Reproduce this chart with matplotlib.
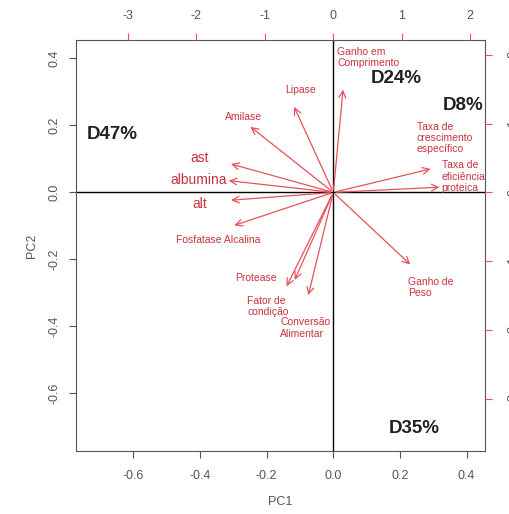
import matplotlib.pyplot as plt

plt.rcParams['font.family'] = ['Liberation Sans', 'DejaVu Sans']
plt.rcParams['axes.unicode_minus'] = False

# loadings (PC1, PC2)
variables = ["Ganho em\nComprimento", "Lipase", "Amilase", "ast", "albumina", "alt",
             "Fosfatase Alcalina", "Protease", "Fator de\ncondição", "Conversão\nAlimentar",
             "Ganho de\nPeso", "Taxa de\ncrescimento\nespecífico", "Taxa de\neficiência\nproteica"]
pc1 = [0.030, -0.121, -0.255, -0.315, -0.322, -0.315, -0.305, -0.144, -0.119, -0.077, 0.237, 0.300, 0.327]
pc2 = [0.315, 0.263, 0.201, 0.087, 0.036, -0.024, -0.101, -0.288, -0.269, -0.315, -0.221, 0.072, 0.016]

groups = ["D24%", "D8%", "D47%", "D35%"]

# label placement (x, y, ha, va, size)
label_pos = [
    (0.012, 0.435, "left", "top", 7.5),
    (-0.097, 0.305, "center", "center", 7.5),
    (-0.27, 0.225, "center", "center", 7.5),
    (-0.40, 0.104, "center", "center", 10),
    (-0.405, 0.036, "center", "center", 10),
    (-0.40, -0.036, "center", "center", 10),
    (-0.345, -0.142, "center", "center", 7.5),
    (-0.231, -0.255, "center", "center", 7.5),
    (-0.258, -0.34, "left", "center", 7.5),
    (-0.159, -0.405, "left", "center", 7.5),
    (0.225, -0.285, "left", "center", 7.5),
    (0.25, 0.162, "left", "center", 7.5),
    (0.325, 0.047, "left", "center", 7.5),
]
group_pos = [(0.19, 0.341), (0.389, 0.258), (-0.664, 0.172), (0.243, -0.704)]

arrow_col = "#e8505b"
text_col = "#c8323c"
lim = (-0.772, 0.455)
ratio = 0.2055

fig = plt.figure(figsize=(5.09, 5.14), dpi=100)
ax = fig.add_axes([0.1493, 0.1226, 0.8035, 0.7996])
ax.set_xlim(lim)
ax.set_ylim(lim)
ax.axhline(0, color="black", lw=1)
ax.axvline(0, color="black", lw=1)

for i in range(len(variables)):
    ax.annotate("", xy=(pc1[i], pc2[i]), xytext=(0, 0),
                arrowprops=dict(arrowstyle="->", color=arrow_col, lw=0.9, mutation_scale=12))
    x, y, ha, va, sz = label_pos[i]
    ax.text(x, y, variables[i], color=text_col, fontsize=sz, ha=ha, va=va, linespacing=1.15)

for g, (x, y) in zip(groups, group_pos):
    ax.text(x, y, g, fontsize=13.5, fontweight="bold", color="#222222", ha="center", va="center")

for s in ax.spines.values():
    s.set_color("#555555")

ax.set_xticks([-0.6, -0.4, -0.2, 0.0, 0.2, 0.4])
ax.set_yticks([-0.6, -0.4, -0.2, 0.0, 0.2, 0.4])
ax.tick_params(axis="x", length=5, pad=9, labelsize=9, colors="#555555")
ax.tick_params(axis="y", length=5, pad=6, labelsize=9, colors="#555555")
for t in ax.get_yticklabels():
    t.set_rotation(90)
    t.set_va("center")
ax.set_xlabel("PC1", fontsize=9, color="#555555", labelpad=10)
ax.set_ylabel("PC2", fontsize=9, color="#555555", labelpad=8)

# secondary axes for the scores
top = ax.twiny()
top.set_xlim(lim[0] / ratio, lim[1] / ratio)
top.set_xticks([-3, -2, -1, 0, 1, 2])
top.tick_params(axis="x", length=5, pad=8, labelsize=9, color=arrow_col, labelcolor="#555555")
right = top.twinx()
right.set_ylim(lim[0] / ratio, lim[1] / ratio)
right.set_yticks([-3, -2, -1, 0, 1, 2])
right.tick_params(axis="y", length=5, pad=11, labelsize=9, color=arrow_col, labelcolor="#555555")
for t in right.get_yticklabels():
    t.set_rotation(90)
    t.set_va("center")
for a in (top, right):
    for s in a.spines.values():
        s.set_visible(False)

fig.savefig("out.png", dpi=100)
